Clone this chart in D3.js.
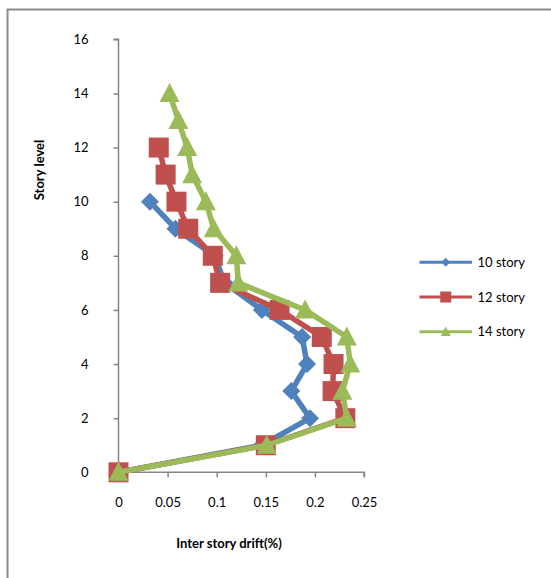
<!DOCTYPE html>
<html>
<head>
<meta charset="utf-8">
<script src="https://cdn.jsdelivr.net/npm/d3@7"></script>
<style>
  html, body { margin: 0; padding: 0; background: #fff; }
  svg { display: block; }
  text { font-family: Lato, "Open Sans", sans-serif; fill: #000; }
</style>
</head>
<body>
<svg id="chart" width="551" height="578"></svg>
<script>
// Data
const storyLevels10 = [0, 1, 2, 3, 4, 5, 6, 7, 8, 9, 10];
const drift10 = [0, 0.146, 0.195, 0.176, 0.192, 0.187, 0.146, 0.108, 0.098, 0.058, 0.032];

const storyLevels12 = [0, 1, 2, 3, 4, 5, 6, 7, 8, 9, 10, 11, 12];
const drift12 = [0, 0.150, 0.231, 0.218, 0.219, 0.207, 0.164, 0.1035, 0.096, 0.071, 0.059, 0.048, 0.041];

const storyLevels14 = [0, 1, 2, 3, 4, 5, 6, 7, 8, 9, 10, 11, 12, 13, 14];
const drift14 = [0, 0.151, 0.2325, 0.228, 0.236, 0.2325, 0.190, 0.122, 0.120, 0.097, 0.089, 0.075, 0.070, 0.061, 0.052];

const seriesNames = ["10 story", "12 story", "14 story"];
const xTicks = [0, 0.05, 0.1, 0.15, 0.2, 0.25];
const yTicks = [0, 2, 4, 6, 8, 10, 12, 14, 16];
const xTitle = "Inter story drift(%)";
const yTitle = "Story level";

const series = [
  { name: seriesNames[0], x: drift10, y: storyLevels10, color: "#4F81BD", marker: "diamond" },
  { name: seriesNames[1], x: drift12, y: storyLevels12, color: "#C0504D", marker: "square" },
  { name: seriesNames[2], x: drift14, y: storyLevels14, color: "#9BBB59", marker: "triangle" }
];

const svg = d3.select("#chart");

// outer border
svg.append("rect")
  .attr("x", 7.5).attr("y", 9.5)
  .attr("width", 600).attr("height", 600)
  .attr("fill", "none").attr("stroke", "#8c8c8c").attr("stroke-width", 2);

const x = d3.scaleLinear().domain([0, 0.25]).range([118.5, 364]);
const y = d3.scaleLinear().domain([0, 16]).range([472.3, 39.3]);

const axisColor = "#868686";

// Y axis
const yAxis = svg.append("g").attr("transform", `translate(${x(0)},0)`)
  .call(d3.axisLeft(y).tickValues(yTicks).tickSize(5).tickPadding(25).tickFormat(d3.format("d")));
yAxis.select(".domain").attr("stroke", axisColor).attr("stroke-width", 1.5)
  .attr("d", `M-5,${y(16)}H0V${y(0)}`);
yAxis.selectAll(".tick line").attr("stroke", axisColor).attr("stroke-width", 1.5);
yAxis.selectAll(".tick text").style("font-size", "13px").style("font-family", "Lato, sans-serif").attr("fill", "#000");

// X axis
const xAxis = svg.append("g").attr("transform", `translate(0,${y(0)})`)
  .call(d3.axisBottom(x).tickValues(xTicks).tickSize(5).tickPadding(20).tickFormat(d => d === 0 ? "0" : String(d)));
xAxis.select(".domain").attr("stroke", axisColor).attr("stroke-width", 1.5)
  .attr("d", `M${x(0)},0H${x(0.25)}V5`);
xAxis.selectAll(".tick line").attr("stroke", axisColor).attr("stroke-width", 1.5);
xAxis.selectAll(".tick text").style("font-size", "13px").style("font-family", "Lato, sans-serif").attr("fill", "#000");

// Titles
svg.append("text")
  .attr("transform", `translate(44,${170}) rotate(-90)`)
  .attr("text-anchor", "middle")
  .style("font-size", "13px").style("font-weight", "bold")
  .text(yTitle);
svg.append("text")
  .attr("x", 229).attr("y", 548)
  .attr("text-anchor", "middle")
  .style("font-size", "13px").style("font-weight", "bold")
  .text(xTitle);

function markerPath(type, s) {
  if (type === "diamond") {
    return `M0,${-s}L${s},0L0,${s}L${-s},0Z`;
  } else if (type === "square") {
    return `M${-s},${-s}H${s}V${s}H${-s}Z`;
  } else {
    const h = s * 1.9;
    return `M0,${-h * 0.55}L${s},${h * 0.45}L${-s},${h * 0.45}Z`;
  }
}
const markerSize = { diamond: 9, square: 10, triangle: 10 };
const legendMarkerSize = { diamond: 4.5, square: 5.5, triangle: 5 };

const line = d3.line().x(d => x(d[0])).y(d => y(d[1]));

series.forEach(s => {
  const pts = s.x.map((v, i) => [v, s.y[i]]);
  svg.append("path").datum(pts)
    .attr("d", line)
    .attr("fill", "none").attr("stroke", s.color)
    .attr("stroke-width", 5.5).attr("stroke-linejoin", "round");
  svg.append("g").selectAll("path").data(pts).join("path")
    .attr("transform", d => `translate(${x(d[0])},${y(d[1])})`)
    .attr("d", markerPath(s.marker, markerSize[s.marker]))
    .attr("fill", s.color);
});

// Legend
const legendY = [262.3, 297, 331.7];
series.forEach((s, i) => {
  const g = svg.append("g").attr("transform", `translate(0,${legendY[i]})`);
  g.append("line").attr("x1", 419.5).attr("x2", 472).attr("y1", 0).attr("y2", 0)
    .attr("stroke", s.color).attr("stroke-width", 3);
  g.append("path").attr("transform", `translate(445.7,0)`)
    .attr("d", markerPath(s.marker, legendMarkerSize[s.marker]))
    .attr("fill", s.color);
  g.append("text").attr("x", 477.5).attr("y", 0).attr("dy", "0.35em")
    .style("font-size", "13px").text(s.name);
});
</script>
</body>
</html>
